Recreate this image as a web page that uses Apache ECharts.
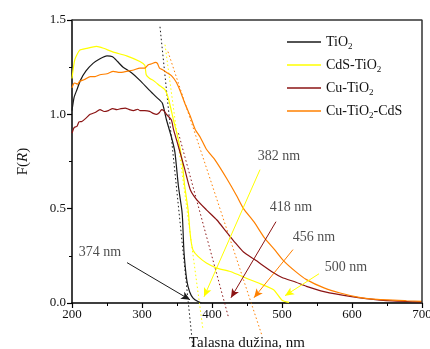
<!DOCTYPE html>
<html>
<head>
<meta charset="utf-8">
<script src="https://cdn.jsdelivr.net/npm/echarts@6/dist/echarts.min.js"></script>
<style>
  html, body { margin: 0; padding: 0; background: #fff; }
  #chart { width: 430px; height: 349px; }
</style>
</head>
<body>
<div id="chart"></div>
<script>
// F(R) vs wavelength (nm)
const tio2 = [[200,1.02],[203,1.09],[207,1.13],[212,1.18],[220,1.23],[230,1.27],[240,1.295],[250,1.31],[258,1.305],[265,1.28],[273,1.25],[285,1.22],[297,1.18],[310,1.13],[321,1.09],[329,1.06],[335,0.97],[342,0.88],[347,0.80],[352,0.62],[357,0.49],[358,0.44],[360,0.27],[364,0.12],[368,0.06],[373,0.026],[380,0.008],[386,0],[700,0]];
const cdsTio2 = [[200,1.19],[204,1.29],[211,1.34],[221,1.35],[235,1.36],[245,1.35],[259,1.33],[278,1.31],[297,1.28],[304,1.26],[306,1.21],[311,1.19],[316,1.18],[326,1.15],[333,1.13],[338,1.08],[345,0.97],[352,0.865],[357,0.76],[361,0.62],[366,0.49],[368,0.40],[370,0.33],[373,0.28],[380,0.247],[392,0.212],[407,0.185],[426,0.167],[450,0.13],[470,0.10],[488,0.07],[500,0.015],[510,0.003]];
const cuTio2 = [[200,0.90],[203,0.93],[207,0.936],[210,0.96],[214,0.962],[220,0.98],[226,1.0],[233,1.01],[240,1.025],[246,1.015],[252,1.02],[258,1.03],[264,1.025],[270,1.03],[276,1.033],[282,1.025],[288,1.02],[294,1.027],[297,1.02],[304,1.02],[311,1.016],[316,1.005],[321,1.0],[325,1.01],[328,1.025],[331,1.02],[335,1.0],[342,0.97],[345,0.92],[352,0.83],[361,0.71],[369,0.60],[378,0.548],[392,0.494],[407,0.44],[420,0.38],[433,0.32],[445,0.27],[461,0.23],[488,0.16],[500,0.135],[520,0.11],[535,0.088],[560,0.06],[597,0.035],[640,0.015],[678,0.008],[700,0.006]];
const cuTio2Cds = [[200,1.14],[202,1.16],[204,1.166],[208,1.16],[211,1.175],[218,1.185],[226,1.20],[233,1.20],[240,1.21],[250,1.215],[259,1.228],[268,1.222],[278,1.228],[288,1.235],[297,1.245],[304,1.245],[309,1.263],[314,1.268],[319,1.275],[322,1.27],[325,1.245],[330,1.235],[335,1.222],[342,1.205],[349,1.17],[355,1.12],[361,1.06],[369,0.99],[376,0.92],[383,0.88],[392,0.815],[404,0.76],[421,0.66],[435,0.57],[445,0.50],[460,0.43],[475,0.345],[490,0.28],[502,0.225],[520,0.165],[535,0.124],[560,0.08],[583,0.053],[610,0.03],[630,0.021],[678,0.012],[700,0.009]];

// band-edge tangent lines (dotted)
const tangentTio2 = [[325.7,1.464],[372.9,-0.242]];
const tangentCds = [[332.9,1.369],[387.1,-0.141]];
const tangentCu = [[352.1,0.9],[423.7,-0.078]];
const tangentCuCds = [[337.1,1.332],[471,-0.168]];

// arrow annotations: [from, to], label position and text
const arrowStarts = [[278.6,0.214],[468.6,0.707],[491.4,0.431],[515.7,0.283],[552.9,0.155]];
const arrowEnds = [[368.6,0.017],[388.6,0.033],[427.1,0.028],[460,0.028],[504.3,0.039]];
const labelPos = [[240,0.27],[495.7,0.78],[512.9,0.505],[545.7,0.346],[591.4,0.187]];
const labelText = ['374 nm','382 nm','418 nm','456 nm','500 nm'];

const names = ['TiO2','CdS-TiO2','Cu-TiO2','Cu-TiO2-CdS'];
const colors = ['#1a1a1a','#ffff00','#8b1414','#ff8000'];
const arrowColors = ['#1a1a1a','#ffff00','#8b1414','#ff8000','#ffff00'];

const xMin = 200, xMax = 700, yMin = 0, yMax = 1.5;

const serif = 'Liberation Serif';
const chart = echarts.init(document.getElementById('chart'));

const curves = [tio2, cdsTio2, cuTio2, cuTio2Cds].map((d, i) => ({
  name: names[i],
  type: 'line',
  data: d,
  showSymbol: false,
  smooth: 0.2,
  lineStyle: { color: colors[i], width: 1.2 },
  itemStyle: { color: colors[i] },
  z: 3
}));

const tangents = [tangentTio2, tangentCds, tangentCu, tangentCuCds].map((d, i) => ({
  type: 'line',
  data: d,
  showSymbol: false,
  clip: false,
  silent: true,
  lineStyle: { color: colors[i], width: 1, type: [1.5, 2.5] },
  z: 2
}));

// top and right edges of the plot frame, as a plain line through the corners
const frame = {
  type: 'line',
  data: [[xMin, yMax], [xMax, yMax], [xMax, yMin]],
  showSymbol: false,
  clip: false,
  silent: true,
  lineStyle: { color: '#333', width: 1.5 },
  z: 4
};

const arrows = {
  type: 'line',
  data: [],
  silent: true,
  markLine: {
    silent: true,
    symbol: ['none', 'arrow'],
    symbolSize: [6, 9],
    label: { show: false },
    animation: false,
    data: arrowStarts.map((s, i) => [
      { coord: s, lineStyle: { color: arrowColors[i], width: 1, type: 'solid' }, itemStyle: { color: arrowColors[i] } },
      { coord: arrowEnds[i] }
    ])
  }
};

const labels = {
  type: 'scatter',
  symbolSize: 0,
  silent: true,
  data: labelPos.map((p, i) => ({ value: p, name: labelText[i] })),
  label: {
    show: true,
    position: 'inside',
    formatter: '{b}',
    color: '#222',
    fontFamily: serif,
    fontSize: 14
  }
};

chart.setOption({
  animation: false,
  backgroundColor: '#fff',
  grid: { left: 72, right: 8, top: 20, bottom: 46, outerBoundsMode: 'none' },
  legend: {
    data: names,
    orient: 'vertical',
    left: 282,
    top: 30,
    itemWidth: 34,
    itemHeight: 1.5,
    itemGap: 7,
    icon: 'rect',
    formatter: n => n.replace(/TiO2/, 'TiO{s|2}'),
    textStyle: {
      fontFamily: serif, fontSize: 14, color: '#111',
      rich: { s: { fontFamily: serif, fontSize: 9, color: '#111', padding: [9, 0, 0, 0] } }
    }
  },
  xAxis: {
    type: 'value',
    min: xMin, max: xMax, interval: 100,
    name: 'Talasna dužina, nm',
    nameLocation: 'middle',
    nameGap: 33,
    nameTextStyle: { fontFamily: serif, fontSize: 15, color: '#111' },
    axisLine: { onZero: false, lineStyle: { color: '#000', width: 1.5 } },
    axisTick: { length: 5, lineStyle: { color: '#000', width: 1.2 } },
    minorTick: { show: true, splitNumber: 2, length: 3, lineStyle: { color: '#000' } },
    splitLine: { show: false },
    axisLabel: { fontFamily: serif, fontSize: 13, color: '#111', margin: 5 }
  },
  yAxis: {
    type: 'value',
    min: yMin, max: yMax, interval: 0.5,
    name: '{a|F(}{b|R}{a|)}',
    nameLocation: 'middle',
    nameGap: 41,
    nameRotate: 90,
    nameTextStyle: {
      rich: {
        a: { fontFamily: serif, fontSize: 15, color: '#111' },
        b: { fontFamily: serif, fontSize: 15, fontStyle: 'italic', color: '#111' }
      }
    },
    axisLine: { show: true, onZero: false, lineStyle: { color: '#000', width: 1.5 } },
    axisTick: { show: true, length: 5, lineStyle: { color: '#000', width: 1.2 } },
    minorTick: { show: true, splitNumber: 2, length: 3, lineStyle: { color: '#000' } },
    splitLine: { show: false },
    axisLabel: { fontFamily: serif, fontSize: 13, color: '#111', margin: 6, formatter: v => v.toFixed(1) }
  },
  series: [...tangents, ...curves, frame, arrows, labels]
});
</script>
</body>
</html>
